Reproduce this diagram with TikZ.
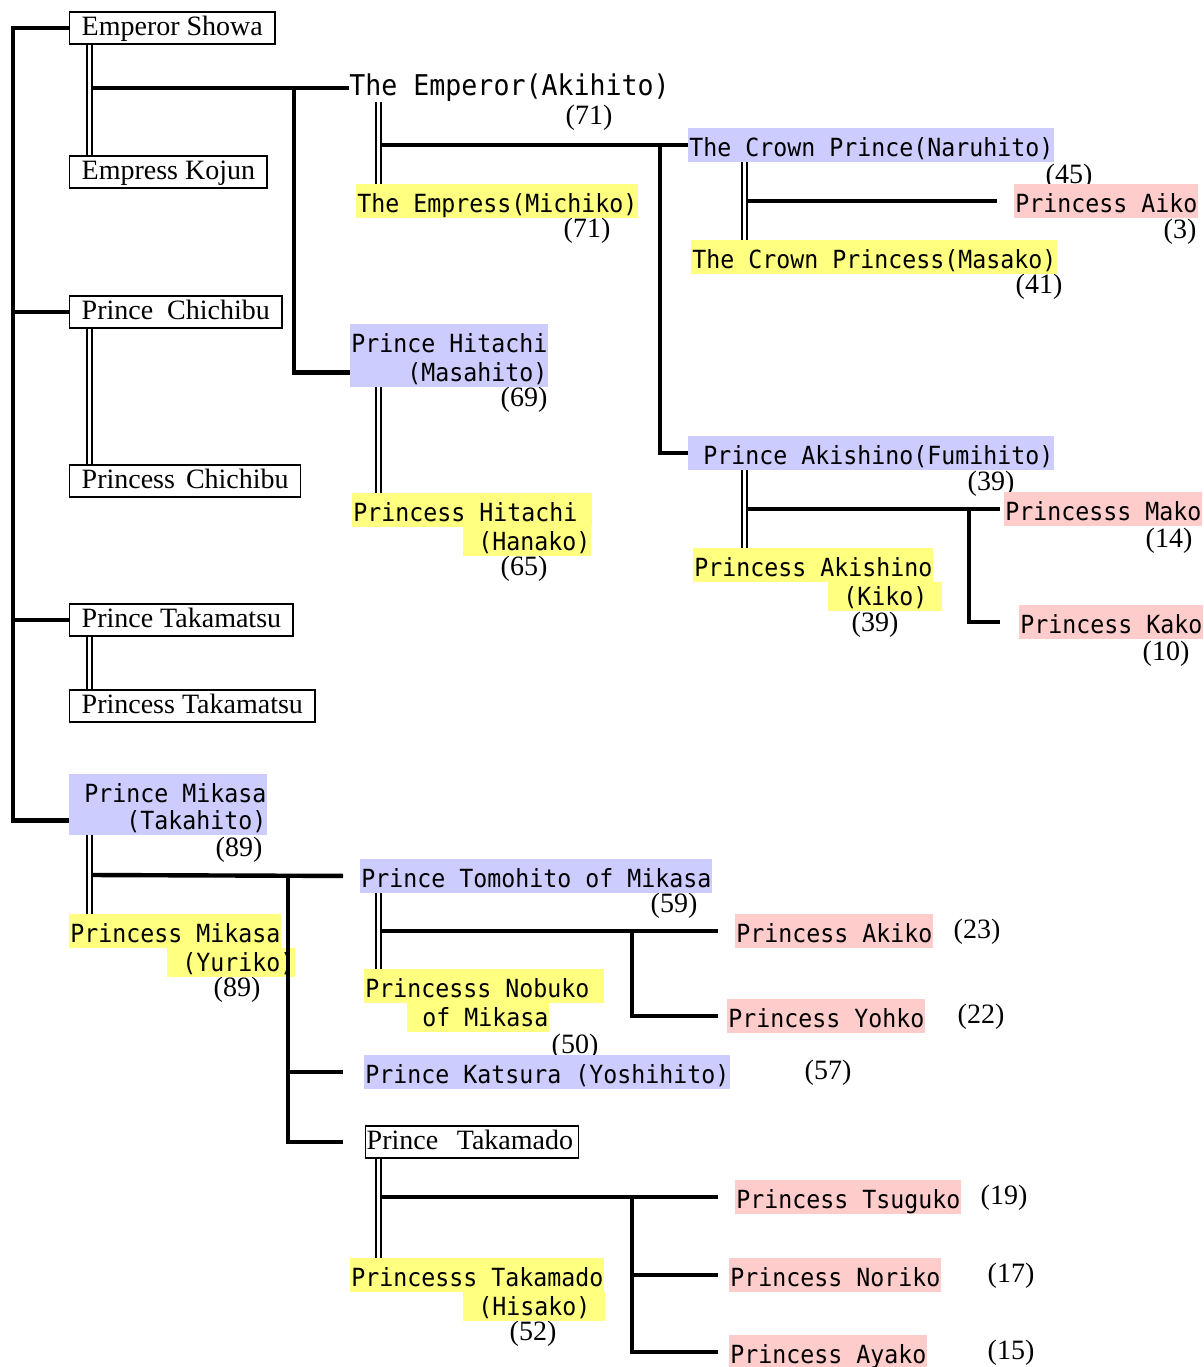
\documentclass[tikz,border=0pt]{standalone}
\usepackage{fontspec}
\setmainfont{Liberation Serif}
\newfontfamily\gothic[FakeStretch=0.93]{DejaVu Sans Mono}
\usetikzlibrary{calc}
\definecolor{cPrince}{RGB}{204,204,255}
\definecolor{cWife}{RGB}{255,255,128}
\definecolor{cDaughter}{RGB}{255,204,204}
\newcommand\namefont{\gothic\fontsize{12.5}{15}\selectfont}
\newcommand\bignamefont{\gothic\fontsize{14.3}{16}\selectfont}
\newcommand\boxfont{\fontsize{14}{16}\selectfont}
\tikzset{
	kin/.style={line width=2.2pt},
	marry/.style={double, double distance=1.5pt, line width=1pt},
	tbox/.style={draw, line width=0.7pt, fill=white, anchor=west, font=\boxfont, inner xsep=6pt, inner ysep=0pt, text height=11.5pt, text depth=4.5pt},
	hl/.style={fill=#1, anchor=west, font=\namefont, inner xsep=0.5pt, inner ysep=0pt, text height=14pt, text depth=3pt},
	prince/.style={hl=cPrince},
	wife/.style={hl=cWife},
	daughter/.style={hl=cDaughter},
	% second line of a name
	low/.style={text height=11.5pt},
	% age in brackets
	age/.style={font=\boxfont, inner sep=0pt},
}
\begin{document}
\begin{tikzpicture}[x=0.5pt, y=-0.5pt]
	\useasboundingbox (0,0) rectangle (1204,1367);
	\foreach \x/\y/\a [count=\i] in {589/118/71, 587/231/71, 524/400/69, 524/569/65, 1069/177/45, 1180/232/3, 1039/287/41, 991/484/39, 1169/541/14, 875/625/39, 1166/654/10, 239/850/89, 237/990/89, 674/906/59, 575/1047/50, 828/1073/57, 977/932/23, 981/1017/22, 533/1334/52, 1004/1198/19, 1011/1276/17, 1011/1353/15} {
		\node[age] (age\i) at (\x,\y) {(\a)};
	}
	% first generation
	\node[tbox] (showa) at (69,28) {Emperor Showa};
	\node[tbox] (kojun) at (69,172) {Empress Kojun};
	\node[tbox] (chichibu) at (69,312) {Prince~~Chichibu};
	\node[tbox] (chichibuW) at (69,481) {Princess\hspace{2pt} Chichibu};
	\node[tbox] (takamatsu) at (69,620) {Prince Takamatsu};
	\node[tbox] (takamatsuW) at (69,706) {Princess Takamatsu};
	\node[prince] (mikasa1) at (69,791) {\phantom{x}Prince Mikasa};
	\node[prince, low] (mikasa2) at (69,820.5) {\phantom{xxxx}(Takahito)};
	\node[wife] (yuriko1) at (69,931) {Princess Mikasa};
	\node[wife, low] (yuriko2) at (167,962.5) {\phantom{x}(Yuriko)};
	% second generation
	\node[anchor=west, font=\bignamefont, inner sep=0pt] (emperor) at (349,88) {The Emperor(Akihito)};
	\node[wife] (michiko) at (356,201) {The Empress(Michiko)};
	\node[prince] (hitachi1) at (350,341) {Prince Hitachi};
	\node[prince, low] (hitachi2) at (350,372.5) {\phantom{xxxx}(Masahito)};
	\node[wife] (hanako1) at (352,510) {Princess Hitachi\phantom{x}};
	\node[wife, low] (hanako2) at (463,541.5) {\phantom{x}(Hanako)};
	\node[prince] (tomohito) at (360,876) {Prince Tomohito of Mikasa};
	\node[wife] (nobuko1) at (364,986) {Princesss Nobuko\phantom{x}};
	\node[wife, low] (nobuko2) at (407,1017.5) {\phantom{x}of Mikasa};
	\node[prince] (katsura) at (364,1072) {Prince Katsura (Yoshihito)};
	\node[tbox, inner xsep=0.5pt, text width=105.5pt, align=left] (takamado) at (365,1142) {Prince~~Takamado};
	\node[wife] (hisako1) at (350,1275) {Princesss Takamado};
	\node[wife, low] (hisako2) at (463,1306.5) {\phantom{x}(Hisako)\phantom{x}};
	% third generation
	\node[prince] (naruhito) at (688,145) {The Crown Prince(Naruhito)};
	\node[daughter] (aiko) at (1014,201) {Princess Aiko};
	\node[wife] (masako) at (691,257) {The Crown Princess(Masako)};
	\node[prince] (akishino) at (688,453) {\phantom{x}Prince Akishino(Fumihito)};
	\node[daughter] (mako) at (1004,509) {Princesss Mako};
	\node[wife] (kiko1) at (693,565) {Princess Akishino};
	\node[wife, low] (kiko2) at (828,596.5) {\phantom{x}(Kiko)\phantom{x}};
	\node[daughter] (kako) at (1019,622) {Princess Kako};
	\node[daughter] (akiko) at (735,931) {Princess Akiko};
	\node[daughter] (yohko) at (727,1016) {Princess Yohko};
	\node[daughter] (tsuguko) at (735,1197) {Princess Tsuguko};
	\node[daughter] (noriko) at (729,1275) {Princess Noriko};
	\node[daughter] (ayako) at (729,1352) {Princess Ayako};

	% trunk
	\coordinate (root) at (13,28);
	\draw[kin] (showa.west) -- (root) |- (mikasa2.west);
	\foreach \n in {chichibu, takamatsu}
		\draw[kin] (root |- \n.west) -- (\n.west);
	% children lines
	\coordinate (s0) at (92,88);
	\coordinate (s1) at (294,88);
	\draw[kin] (s0) -- (emperor.west);
	\draw[kin] (s1) |- (hitachi2.west);
	\coordinate (e0) at (381,145);
	\coordinate (e1) at (660,145);
	\draw[kin] (e0) -- (naruhito.west);
	\draw[kin] (e1) |- (akishino.west);
	\coordinate (n0) at (747,201);
	\draw[kin, shorten >=8.5pt] (n0) -- (aiko.west);
	\coordinate (a0) at (747,509);
	\coordinate (a1) at (969,509);
	\draw[kin, shorten >=2pt] (a0) -- (mako.west);
	\draw[kin, shorten >=9.5pt] (a1) |- (kako.west);
	\coordinate (m0) at (92,875);
	\coordinate (m1) at (288,875);
	\draw[kin, shorten >=8.5pt] (m0) -- (tomohito.west);
	\draw[kin, shorten >=10.5pt] (m1) |- (katsura.west);
	\draw[kin, shorten >=11pt] (m1) |- (takamado.west);
	\coordinate (t0) at (381,931);
	\coordinate (t1) at (632,931);
	\draw[kin, shorten >=8.5pt] (t0) -- (akiko.west);
	\draw[kin, shorten >=4.5pt] (t1) |- (yohko.west);
	\coordinate (k0) at (381,1197);
	\coordinate (k1) at (632,1197);
	\draw[kin, shorten >=8.5pt] (k0) -- (tsuguko.west);
	\draw[kin, shorten >=5.5pt] (k1) |- (noriko.west);
	\draw[kin, shorten >=5.5pt] (k1) |- (ayako.west);
	% marriages
	\foreach \h/\w/\dx in {showa/kojun/20, chichibu/chichibuW/20, takamatsu/takamatsuW/20, mikasa2/yuriko1/20, emperor/michiko/29, hitachi2/hanako1/28, tomohito/nobuko1/18, takamado/hisako1/13, naruhito/masako/56, akishino/kiko1/56}
		\draw[marry] ($(\h.south west)+(\dx,0)$) coordinate (tmp) -- (tmp |- \w.north);
\end{tikzpicture}
\end{document}
